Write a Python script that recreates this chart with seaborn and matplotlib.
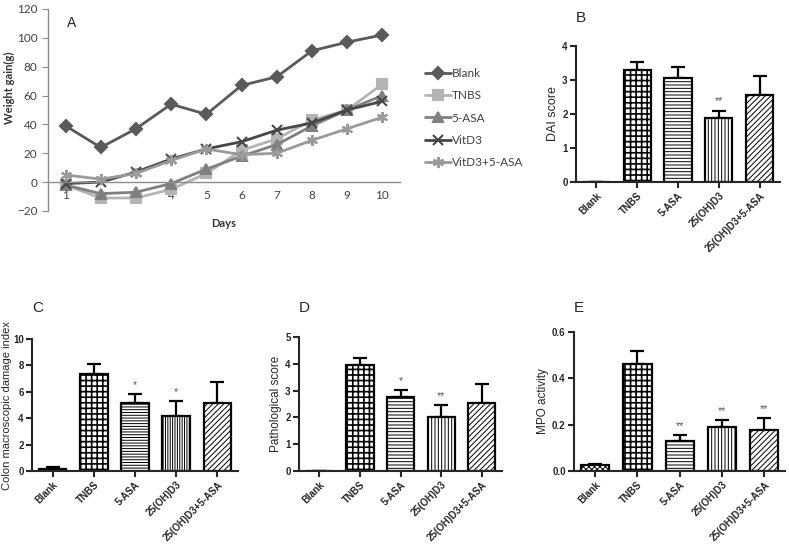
import matplotlib
matplotlib.use("Agg")
import matplotlib.pyplot as plt
import matplotlib.ticker as ticker
import seaborn as sns
import pandas as pd

# Panel A: weight gain by day
days = [1, 2, 3, 4, 5, 6, 7, 8, 9, 10]
blank = [39, 24, 37, 54, 47, 67, 73, 91, 97, 102]
tnbs = [-2, -11, -11, -5, 6, 22, 30, 43, 50, 68]
asa = [-2, -8, -7, -1, 9, 18, 26, 39, 50, 60]
vitd3 = [-1, 0, 7, 16, 23, 28, 36, 41, 50, 56]
vitd3_asa = [5, 2, 6, 15, 23, 19, 20, 29, 37, 45]
line_names = ["Blank", "TNBS", "5-ASA", "VitD3", "VitD3+5-ASA"]

# Panels B-E: bar charts
groups = ["Blank", "TNBS", "5-ASA", "25(OH)D3", "25(OH)D3+5-ASA"]
dai_mean = [0, 3.29, 3.06, 1.87, 2.55]
dai_err = [0, 0.23, 0.33, 0.23, 0.57]
dai_sig = ["", "", "", "**", ""]
cmdi_mean = [0.12, 7.38, 5.17, 4.15, 5.19]
cmdi_err = [0.18, 0.69, 0.66, 1.14, 1.53]
cmdi_sig = ["", "", "*", "*", ""]
path_mean = [0, 3.94, 2.77, 2.03, 2.53]
path_err = [0, 0.29, 0.26, 0.43, 0.72]
path_sig = ["", "", "*", "**", ""]
mpo_mean = [0.026, 0.464, 0.131, 0.192, 0.175]
mpo_err = [0.006, 0.053, 0.024, 0.029, 0.052]
mpo_sig = ["", "", "**", "**", "**"]

sns.set_style("white")
plt.rcParams["font.family"] = ["Liberation Sans", "DejaVu Sans"]
plt.rcParams["hatch.linewidth"] = 0.7

fig = plt.figure(figsize=(7.89, 5.5), dpi=100)


def line_panel(ax):
    #Weight gain lines (Excel style)
    #------------------
    styles = [
        (blank, "#5a5a5a", "D", 6),
        (tnbs, "#b4b4b4", "s", 7),
        (asa, "#808080", "^", 7),
        (vitd3, "#474747", "x", 7),
        (vitd3_asa, "#9a9a9a", (6, 2, 0), 8),
    ]
    for (vals, col, mk, ms), name in zip(styles, line_names):
        sns.lineplot(x=days, y=vals, color=col, marker=mk, markersize=ms,
                     markeredgecolor=col, markerfacecolor=col, markeredgewidth=1.5,
                     linewidth=2, label=name, ax=ax)
    ax.set_xlim(0.5, 10.5)
    ax.set_ylim(-20, 120)
    ax.set_yticks(range(-20, 121, 20))
    ax.set_xticks(days)
    ax.xaxis.set_minor_locator(ticker.FixedLocator([d + 0.5 for d in [0] + days]))
    ax.spines["top"].set_visible(False)
    ax.spines["right"].set_visible(False)
    ax.spines["bottom"].set_position(("data", 0))
    for s in ["left", "bottom"]:
        ax.spines[s].set_color("#8c8c8c")
        ax.spines[s].set_linewidth(1)
    ax.tick_params(axis="x", which="major", length=0, pad=6, labelsize=8.5, labelcolor="#404040")
    ax.tick_params(axis="x", which="minor", length=4, color="#8c8c8c", direction="out")
    ax.tick_params(axis="y", length=4, color="#8c8c8c", direction="out", labelsize=8.5,
                   labelcolor="#404040", left=True)
    for lab in ax.get_xticklabels() + ax.get_yticklabels():
        lab.set_family("Lato")
    ax.set_ylabel("Weight gain(g)", fontsize=8, fontweight="bold", color="#333333", family="Lato")
    ax.yaxis.set_label_coords(-0.094, 0.61)
    ax.set_xlabel("")
    ax.text(0.5, -0.035, "Days", transform=ax.transAxes, ha="center", va="top",
            fontsize=8, fontweight="bold", color="#333333", family="Lato")
    ax.text(0.055, 0.93, "A", transform=ax.transAxes, fontsize=10, va="center")
    ax.legend(loc="upper left", bbox_to_anchor=(1.04, 0.76), frameon=False,
              handlelength=2.2, handletextpad=0.1, labelspacing=0.95,
              prop={"family": "Lato", "size": 8.5}, labelcolor="#404040")


def bar_panel(ax, means, errs, sigs, hatches, ylabel, ymax, step, letter, fmt, letter_px):
    df = pd.DataFrame({"group": groups, "value": means})
    sns.barplot(data=df, x="group", y="value", color="white", edgecolor="black",
                linewidth=1.6, width=0.67, saturation=1, ax=ax, zorder=2)
    for p, h in zip(ax.patches, hatches):
        p.set_hatch(h)
        if h == "+++" and hasattr(p, "set_hatch_linewidth"):
            p.set_hatch_linewidth(1.2)
    ax.errorbar(range(len(groups)), means, yerr=[[0] * len(errs), errs], fmt="none",
                ecolor="black", elinewidth=1.6, capsize=5, capthick=1.6, zorder=1)
    for i, s in enumerate(sigs):
        if s:
            ax.annotate(s, (i, means[i] + errs[i]), xytext=(0, 3), textcoords="offset points",
                        ha="center", va="bottom", fontsize=7.5, color="#555555")
    ax.set_xlim(-0.5, len(groups) - 0.5)
    ax.set_ylim(0, ymax)
    ax.yaxis.set_major_locator(ticker.MultipleLocator(step))
    ax.yaxis.set_major_formatter(ticker.FormatStrFormatter(fmt))
    sns.despine(ax=ax)
    for s in ["left", "bottom"]:
        ax.spines[s].set_linewidth(1.5)
    ax.tick_params(axis="both", direction="out", length=4, width=1.5, labelsize=7, left=True, bottom=True, pad=2)
    ax.set_xticks(range(len(groups)))
    ax.set_xticklabels(groups, rotation=45, ha="right", rotation_mode="anchor", fontweight="bold")
    for lab in ax.get_yticklabels():
        lab.set_fontweight("bold")
    ax.set_xlabel("")
    ax.set_ylabel(ylabel, fontsize=8.5, labelpad=2)
    ax.annotate(letter, (0, 1), xycoords="axes fraction", xytext=(0, letter_px * 0.72),
                textcoords="offset points", fontsize=11, va="center", ha="left")


axA = fig.add_axes([0.0608, 0.6164, 0.4461, 0.3673])
line_panel(axA)

axB = fig.add_axes([0.730, 0.669, 0.2586, 0.2473])
bar_panel(axB, dai_mean, dai_err, dai_sig, ["", "+++", "-----", "|||||", "//////"],
          "DAI score", 4, 1, "B", "%d", 28)
axB.yaxis.label.set_fontsize(9)

axC = fig.add_axes([0.0406, 0.1436, 0.261, 0.24])
bar_panel(axC, cmdi_mean, cmdi_err, cmdi_sig, ["xxxxxx", "+++", "------", "|||||||", "//////"],
          "Colon macroscopic damage index", 10, 2, "C", "%d", 31)
axC.yaxis.label.set_fontsize(8)
axC.yaxis.labelpad = 1

axD = fig.add_axes([0.379, 0.1436, 0.2573, 0.2436])
bar_panel(axD, path_mean, path_err, path_sig, ["", "+++", "-----", "|||||", "//////"],
          "Pathological score", 5, 1, "D", "%d", 29)

axE = fig.add_axes([0.7275, 0.1436, 0.268, 0.2527])
bar_panel(axE, mpo_mean, mpo_err, mpo_sig, ["xxxxxx", "+++", "-----", "|||||", "//////"],
          "MPO activity", 0.6, 0.2, "E", "%.1f", 24)

fig.savefig("out.png", dpi=100)
